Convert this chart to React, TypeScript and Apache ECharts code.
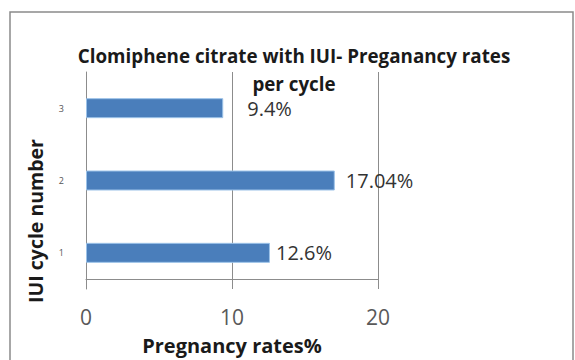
import React, { useEffect, useRef } from "react";
import * as echarts from "echarts";

const categories = ["1", "2", "3"];
const pregnancyRates = [12.6, 17.04, 9.4];
const xTicks = { min: 0, max: 20, interval: 10 };
const titleText = "Clomiphene citrate with IUI- Preganancy rates\nper cycle";
const xAxisName = "Pregnancy rates%";
const yAxisName = "IUI cycle number";
const labelGaps = [6, 11, 24];

export default function App() {
  const ref = useRef<HTMLDivElement>(null);
  useEffect(() => {
    if (!ref.current) return;
    const chart = echarts.init(ref.current, null, { renderer: "svg" });
    const font = "'Open Sans', 'Noto Sans', sans-serif";
    chart.setOption({
      animation: false,
      backgroundColor: "#ffffff",
      title: {
        text: titleText,
        left: 294,
        textAlign: "center",
        top: 42,
        padding: 0,
        textStyle: {
          fontFamily: font,
          fontWeight: "bold",
          fontSize: 18.8,
          lineHeight: 28,
          color: "#1a1a1a",
        },
      },
      graphic: [
        {
          type: "rect",
          shape: { x: 10, y: 12, width: 563, height: 400 },
          style: { fill: "none", stroke: "#8a8a8a", lineWidth: 1.5 },
          silent: true,
        },
        {
          type: "text",
          x: 35,
          y: 221,
          rotation: Math.PI / 2,
          style: {
            text: yAxisName,
            textAlign: "center",
            textVerticalAlign: "middle",
            fontFamily: font,
            fontWeight: "bold",
            fontSize: 19.5,
            fill: "#1a1a1a",
          },
        },
      ],
      grid: {
        left: 86,
        right: 197,
        top: 72,
        bottom: 71,
        containLabel: false,
        outerBoundsMode: "none",
      },
      xAxis: {
        type: "value",
        min: xTicks.min,
        max: xTicks.max,
        interval: xTicks.interval,
        offset: -10,
        axisLine: { show: true, lineStyle: { color: "#8c8c8c", width: 1 } },
        axisTick: { show: true, length: 6, lineStyle: { color: "#8c8c8c" } },
        splitLine: { show: true, lineStyle: { color: "#8c8c8c", width: 1 } },
        axisLabel: {
          fontFamily: font,
          fontSize: 21,
          color: "#595959",
          margin: 27,
        },
        name: xAxisName,
        nameLocation: "middle",
        nameGap: 56,
        nameTextStyle: {
          fontFamily: font,
          fontWeight: "bold",
          fontSize: 20,
          color: "#1a1a1a",
        },
      },
      yAxis: {
        type: "category",
        data: categories,
        axisLine: { show: true, lineStyle: { color: "#8c8c8c", width: 1 } },
        axisTick: { show: false },
        splitLine: { show: false },
        axisLabel: {
          fontFamily: font,
          fontSize: 9,
          color: "#555555",
          margin: 22,
        },
      },
      series: [
        {
          type: "bar",
          barWidth: 20,
          data: pregnancyRates.map((v, i) => ({
            value: v,
            label: { distance: labelGaps[i] },
          })),
          itemStyle: {
            color: "#4A7EBB",
            borderColor: "#9CC2E8",
            borderWidth: 1,
          },
          label: {
            show: true,
            position: "right",
            formatter: (p: any) => p.value + "%",
            fontFamily: font,
            fontSize: 20,
            color: "#333333",
          },
        },
      ],
    });
    return () => chart.dispose();
  }, []);
  return (
    <div
      ref={ref}
      style={{ position: "fixed", left: 0, top: 0, width: 575, height: 360 }}
    />
  );
}
